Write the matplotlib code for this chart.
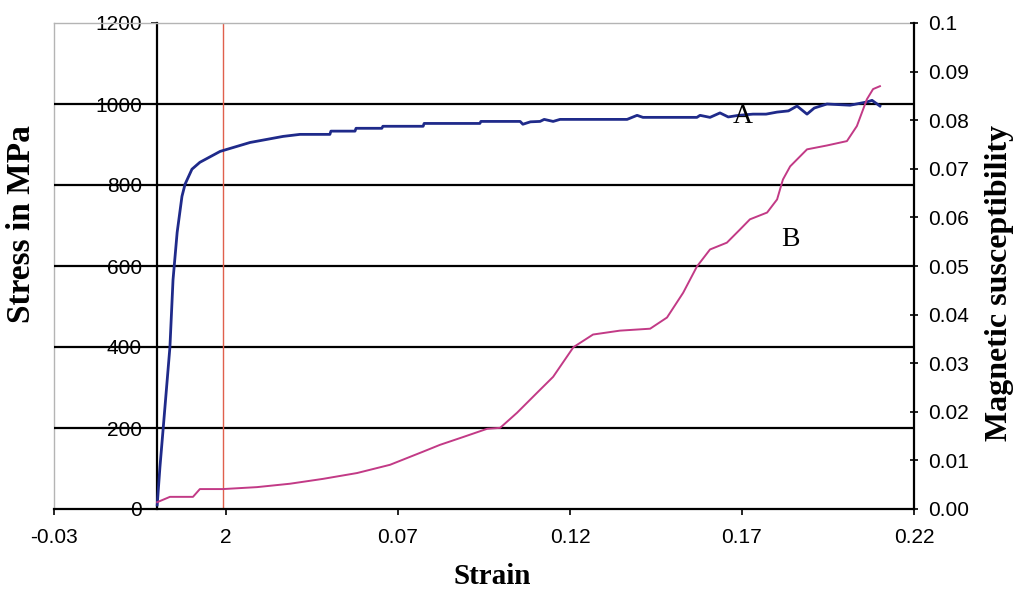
import matplotlib
matplotlib.use("Agg")
import matplotlib.pyplot as plt

plt.rcParams['font.family'] = ['Liberation Sans', 'DejaVu Sans']

# Curve A: stress (MPa) against strain
strain_a = [0.0, 0.0008, 0.0017, 0.0037, 0.0046, 0.0058, 0.0072, 0.0081, 0.0101,
            0.0124, 0.0183, 0.027, 0.0366, 0.0415, 0.0502, 0.0505, 0.0575, 0.0578,
            0.0653, 0.0656, 0.0773, 0.0776, 0.0938, 0.0941, 0.1055, 0.1063, 0.1085,
            0.1113, 0.1125, 0.1151, 0.1171, 0.1366, 0.1395, 0.1412, 0.1569, 0.1578,
            0.1607, 0.1636, 0.1660, 0.1690, 0.1732, 0.1770, 0.1802, 0.1835, 0.1860,
            0.1889, 0.1910, 0.1947, 0.2014, 0.2063, 0.2078, 0.2101]
stress_a = [10, 104, 195, 400, 566, 683, 772, 802, 839,
            856, 883, 905, 920, 925, 925, 933, 933, 940,
            940, 945, 945, 952, 952, 957, 957, 950, 956,
            957, 962, 957, 962, 962, 972, 967, 967, 972,
            967, 978, 968, 972, 975, 975, 980, 983, 995,
            975, 990, 1000, 997, 1005, 1009, 995]

# Curve B: magnetic susceptibility against strain
strain_b = [0.0, 0.0037, 0.0104, 0.0124, 0.0191, 0.0290, 0.0386, 0.0482, 0.0581,
            0.0677, 0.0773, 0.0822, 0.0889, 0.0959, 0.0997, 0.1046, 0.1104, 0.1151,
            0.1210, 0.1267, 0.1345, 0.1433, 0.1482, 0.1529, 0.1569, 0.1607, 0.1656,
            0.1694, 0.1723, 0.1773, 0.1802, 0.1819, 0.1840, 0.1889, 0.1947, 0.2005,
            0.2034, 0.2063, 0.2081, 0.2101]
susc_b = [0.0014, 0.0025, 0.0025, 0.0041, 0.0041, 0.0045, 0.0052, 0.0062, 0.0074,
          0.0091, 0.0118, 0.0132, 0.0148, 0.0165, 0.0167, 0.0198, 0.0239, 0.0272,
          0.0333, 0.0359, 0.0367, 0.0371, 0.0394, 0.0445, 0.0499, 0.0534, 0.0548,
          0.0575, 0.0596, 0.0610, 0.0637, 0.0678, 0.0705, 0.0740, 0.0748, 0.0757,
          0.0788, 0.0843, 0.0864, 0.0870]

# Axis ticks and labels
x_ticks = [-0.03, 0.02, 0.07, 0.12, 0.17, 0.22]
x_tick_labels = ["-0.03", "2", "0.07", "0.12", "0.17", "0.22"]
stress_ticks = [0, 200, 400, 600, 800, 1000, 1200]
susc_ticks = [0.0, 0.01, 0.02, 0.03, 0.04, 0.05, 0.06, 0.07, 0.08, 0.09, 0.1]
susc_tick_labels = ["0.00", "0.01", "0.02", "0.03", "0.04", "0.05",
                    "0.06", "0.07", "0.08", "0.09", "0.1"]
marker_strain = 0.019

W, H = 1019, 592
fig = plt.figure(figsize=(W / 100, H / 100), dpi=100)
ax = fig.add_axes([54 / W, 83 / H, 860 / W, 486 / H])
ax.set_xlim(-0.03, 0.22)
ax.set_ylim(0, 1200)

# Frame: grey top and left border, black bottom axis, stress axis at strain 0
grey = '#b4b4b4'
ax.spines['top'].set_color(grey)
ax.spines['top'].set_linewidth(1.0)
ax.spines['right'].set_visible(False)
ax.spines['bottom'].set_color('black')
ax.spines['bottom'].set_linewidth(1.6)
ax.spines['left'].set_position(('data', 0))
ax.spines['left'].set_linewidth(1.6)
ax.axvline(-0.03, color=grey, lw=1.0, clip_on=False, zorder=0.4)

ax.set_yticks(stress_ticks)
ax.set_yticklabels([str(v) for v in stress_ticks])
ax.set_xticks(x_ticks)
ax.set_xticklabels(x_tick_labels)
ax.tick_params(axis='y', direction='out', length=4, width=1.2, pad=7, labelsize=15)
ax.tick_params(axis='x', direction='out', length=4.5, width=1.2, pad=9, labelsize=15)

ax.set_axisbelow(True)
ax.grid(axis='y', color='black', lw=1.6)
gls = ax.get_ygridlines()
gls[0].set_visible(False)
gls[-1].set_visible(False)

ax.axvline(marker_strain, color='#e0604c', lw=1.0, zorder=1)

ax.plot(strain_a, stress_a, color='#1f2a8a', lw=2.0, zorder=3)

ax2 = ax.twinx()
ax2.set_ylim(0, 0.1)
for side in ('top', 'left', 'bottom'):
    ax2.spines[side].set_visible(False)
ax2.spines['right'].set_linewidth(1.6)
ax2.set_yticks(susc_ticks)
ax2.set_yticklabels(susc_tick_labels)
ax2.tick_params(axis='y', direction='inout', length=6, width=1.2, pad=7, labelsize=15)
ax2.plot(strain_b, susc_b, color='#c23a86', lw=1.4)

serif = ['Liberation Serif', 'DejaVu Serif']
ax.text(0.1703, 970, 'A', ha='center', va='center', family=serif, fontsize=20, zorder=4)
ax.text(0.184, 665, 'B', ha='center', va='center', family=serif, fontsize=20, zorder=4)

fig.text(22 / W, 1 - 224 / H, 'Stress in MPa', rotation=90, ha='center', va='center',
         family=serif, fontweight='bold', fontsize=24)
fig.text(1000 / W, 1 - 283 / H, 'Magnetic susceptibility', rotation=90, ha='center',
         va='center', family=serif, fontweight='bold', fontsize=23)
fig.text(492 / W, 1 - 577 / H, 'Strain', ha='center', va='center',
         family=serif, fontweight='bold', fontsize=21)

fig.savefig('out.png', dpi=100)
